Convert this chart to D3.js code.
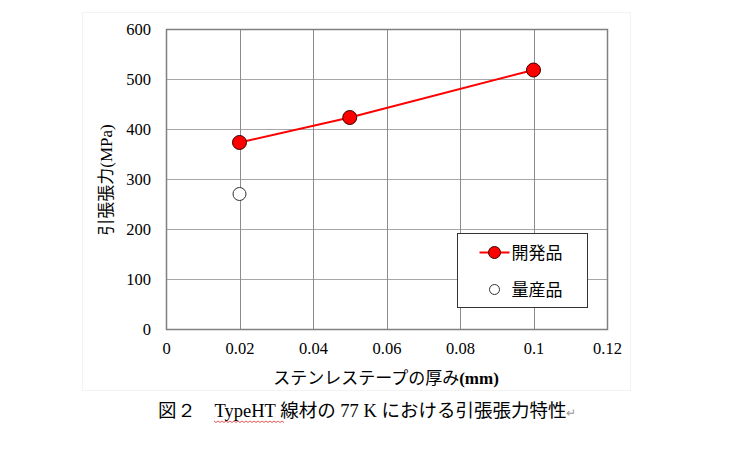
<!doctype html>
<html>
<head>
<meta charset="utf-8"/>
<title>引張張力特性</title>
<script src="https://cdn.jsdelivr.net/npm/d3@7"></script>
<style>
body { margin: 0; background: #fff; }
</style>
</head>
<body>
<script>
// データ
var thickness = [0.02, 0.05, 0.1];          // ステンレステープの厚み (mm)
var devStrength = [373, 423, 518];          // 開発品 (MPa)
var massThickness = [0.02];
var massStrength = [270];                   // 量産品 (MPa)
var xTicks = [0, 0.02, 0.04, 0.06, 0.08, 0.1, 0.12];
var yTicks = [0, 100, 200, 300, 400, 500, 600];
var legendNames = ["開発品", "量産品"];

var svg = d3.select("body").append("svg")
  .attr("width", 738).attr("height", 450);

// チャート領域の枠(薄い)
svg.append("rect")
  .attr("x", 82.5).attr("y", 12.5).attr("width", 548).attr("height", 378)
  .attr("fill", "none").attr("stroke", "#f3f3f3");

var x = d3.scaleLinear().domain([0, 0.12]).range([166, 607]);
var y = d3.scaleLinear().domain([0, 600]).range([329, 29]);

var serif = "'Liberation Serif','Times New Roman',serif";
var jp = "'Noto Sans CJK JP',sans-serif";

// グリッド
svg.append("g").selectAll("line").data(yTicks.slice(1, -1)).enter().append("line")
  .attr("x1", x(0)).attr("x2", x(0.12))
  .attr("y1", function(d){ return Math.round(y(d)) + 0.5; })
  .attr("y2", function(d){ return Math.round(y(d)) + 0.5; })
  .attr("stroke", "#a6a6a6").attr("stroke-width", 1);
svg.append("g").selectAll("line").data(xTicks.slice(1, -1)).enter().append("line")
  .attr("y1", y(0)).attr("y2", y(600))
  .attr("x1", function(d){ return Math.round(x(d)) + 0.5; })
  .attr("x2", function(d){ return Math.round(x(d)) + 0.5; })
  .attr("stroke", "#8c8c8c").attr("stroke-width", 1);

// 枠
svg.append("rect")
  .attr("x", x(0) + 0.5).attr("y", y(600) + 0.5)
  .attr("width", x(0.12) - x(0)).attr("height", y(0) - y(600))
  .attr("fill", "none").attr("stroke", "#808080").attr("stroke-width", 1.5);

// 軸ラベル
var yAxis = d3.axisLeft(y).tickValues(yTicks).tickSize(0).tickPadding(15);
var gy = svg.append("g").attr("transform", "translate(" + x(0) + ",0)").call(yAxis);
gy.select(".domain").remove();
gy.selectAll("text").attr("font-family", serif).attr("font-size", 16.5).attr("fill", "#000");

var xAxis = d3.axisBottom(x).tickValues(xTicks).tickSize(0).tickPadding(13)
  .tickFormat(function(d){ return String(+d.toFixed(2)); });
var gx = svg.append("g").attr("transform", "translate(0," + y(0) + ")").call(xAxis);
gx.select(".domain").remove();
gx.selectAll("text").attr("font-family", serif).attr("font-size", 16.5).attr("fill", "#000");

// 軸タイトル
var xt = svg.append("text").attr("x", 386).attr("y", 384)
  .attr("text-anchor", "middle").attr("font-size", 17);
xt.append("tspan").attr("font-family", jp).text("ステンレステープの厚み");
xt.append("tspan").attr("font-family", serif).attr("font-weight", "bold").text("(mm)");

var yt = svg.append("text").attr("transform", "translate(112,180) rotate(-90)")
  .attr("text-anchor", "middle").attr("font-size", 17);
yt.append("tspan").attr("font-family", jp).text("引張張力");
yt.append("tspan").attr("font-family", serif).text("(MPa)");

// 開発品
var dev = thickness.map(function(d, i){ return [d, devStrength[i]]; });
svg.append("path").datum(dev)
  .attr("d", d3.line().x(function(d){ return x(d[0]); }).y(function(d){ return y(d[1]); }))
  .attr("fill", "none").attr("stroke", "#ff0000").attr("stroke-width", 2);
svg.append("g").selectAll("circle").data(dev).enter().append("circle")
  .attr("cx", function(d){ return x(d[0]); }).attr("cy", function(d){ return y(d[1]); })
  .attr("r", 7).attr("fill", "#ff0000").attr("stroke", "#3a0000").attr("stroke-width", 1);

// 量産品
svg.append("g").selectAll("circle").data(massThickness).enter().append("circle")
  .attr("cx", function(d){ return x(d); })
  .attr("cy", function(d, i){ return y(massStrength[i]); })
  .attr("r", 6.5).attr("fill", "#fff").attr("stroke", "#333").attr("stroke-width", 1);

// 凡例
var lg = svg.append("g").attr("transform", "translate(457.5,233.5)");
lg.append("rect").attr("width", 130).attr("height", 74)
  .attr("fill", "#fff").attr("stroke", "#333").attr("stroke-width", 1);
lg.append("line").attr("x1", 22).attr("x2", 52).attr("y1", 19).attr("y2", 19)
  .attr("stroke", "#ff0000").attr("stroke-width", 2);
lg.append("circle").attr("cx", 37).attr("cy", 19).attr("r", 6)
  .attr("fill", "#ff0000").attr("stroke", "#3a0000");
lg.append("circle").attr("cx", 37).attr("cy", 56).attr("r", 5)
  .attr("fill", "#fff").attr("stroke", "#333");
lg.selectAll("text").data(legendNames).enter().append("text")
  .attr("x", 54).attr("y", function(d, i){ return 25 + i * 37; })
  .attr("font-family", jp).attr("font-size", 17).attr("fill", "#000")
  .text(function(d){ return d; });

// キャプション
var cap = svg.append("text").attr("x", 158).attr("y", 417).attr("font-size", 18.5).attr("fill", "#000");
cap.append("tspan").attr("font-family", jp).text("図");
cap.append("tspan").attr("font-family", serif).text("２　TypeHT ");
cap.append("tspan").attr("font-family", jp).text("線材の");
cap.append("tspan").attr("font-family", serif).text(" 77 K ");
cap.append("tspan").attr("font-family", jp).text("における引張張力特性");
cap.append("tspan").attr("font-family", serif).attr("fill", "#999").attr("font-size", 12).text("↵");

// スペルチェックの波線
var wave = d3.range(0, 71, 2).map(function(d, i){ return [214 + d, 421 + (i % 2 ? 1.5 : 0)]; });
svg.append("path").datum(wave).attr("d", d3.line())
  .attr("fill", "none").attr("stroke", "#e03030").attr("stroke-width", 0.8);
</script>
</body>
</html>
